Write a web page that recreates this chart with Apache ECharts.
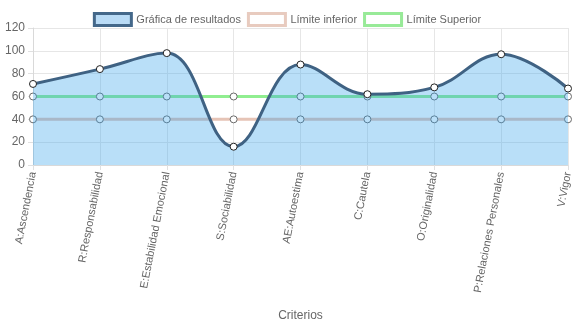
<!DOCTYPE html>
<html><head><meta charset="utf-8">
<script src="https://cdn.jsdelivr.net/npm/echarts@6/dist/echarts.min.js"></script>
<style>html,body{margin:0;padding:0;background:#fff}#c{width:574px;height:323px}</style>
</head><body><div id="c"></div>
<script>
const categories = ["A:Ascendencia","R:Responsabilidad","E:Estabilidad Emocional","S:Sociabilidad","AE:Autoestima","C:Cautela","O:Originalidad","P:Relaciones Personales","V:Vigor"];
const resultados = [71, 84, 98, 16, 88, 62, 68, 97, 67];
const limiteInferior = [40, 40, 40, 40, 40, 40, 40, 40, 40];
const limiteSuperior = [60, 60, 60, 60, 60, 60, 60, 60, 60];
const yTicks = {min: 0, max: 120, interval: 20};
const seriesNames = ["Gráfica de resultados", "Límite inferior", "Límite Superior"];

const FONT = "Liberation Sans, Arial, sans-serif";
const chart = echarts.init(document.getElementById('c'), null, {renderer: 'canvas'});
chart.setOption({
  animation: false,
  textStyle: {fontFamily: FONT},
  legend: {
    top: 7, left: 'center', itemWidth: 37, itemHeight: 12, itemGap: 6,
    textStyle: {color: '#666', fontSize: 11, fontFamily: FONT},
    data: [
      {name: seriesNames[0], icon: 'rect', itemStyle: {color: '#b9dbf6', borderColor: '#44688a', borderWidth: 3}},
      {name: seriesNames[1], icon: 'rect', itemStyle: {color: '#fff', borderColor: '#e8cbbf', borderWidth: 3}},
      {name: seriesNames[2], icon: 'rect', itemStyle: {color: '#fff', borderColor: '#98ea98', borderWidth: 3}}
    ]
  },
  grid: {left: 33, right: 4, top: 28, bottom: 158, containLabel: false},
  xAxis: {
    type: 'category', data: categories, boundaryGap: false,
    name: 'Criterios', nameLocation: 'middle', nameGap: 145,
    nameTextStyle: {color: '#666', fontSize: 12, fontFamily: FONT},
    axisLine: {show: true, lineStyle: {color: '#d9d9d9'}},
    axisTick: {show: true, length: 5, alignWithLabel: true, lineStyle: {color: '#e0e0e0'}},
    axisLabel: {rotate: 79, margin: 7, color: '#666', fontSize: 11, fontFamily: FONT, interval: 0},
    splitLine: {show: true, lineStyle: {color: '#e6e6e6'}}
  },
  yAxis: {
    type: 'value', min: yTicks.min, max: yTicks.max, interval: yTicks.interval,
    axisLine: {show: true, lineStyle: {color: '#d9d9d9'}},
    axisTick: {show: true, length: 5, lineStyle: {color: '#e0e0e0'}},
    axisLabel: {margin: 8, color: '#666', fontSize: 12, fontFamily: FONT},
    splitLine: {show: true, lineStyle: {color: '#e6e6e6'}}
  },
  series: [
    {
      name: seriesNames[2], type: 'line', data: limiteSuperior, z: 2,
      symbol: 'circle', symbolSize: 7,
      itemStyle: {color: '#fff', borderColor: '#6b6b6b', borderWidth: 1},
      lineStyle: {color: '#90ee90', width: 3}
    },
    {
      name: seriesNames[1], type: 'line', data: limiteInferior, z: 2,
      symbol: 'circle', symbolSize: 7,
      itemStyle: {color: '#fff', borderColor: '#6b6b6b', borderWidth: 1},
      lineStyle: {color: '#e6c4b6', width: 3}
    },
    {
      name: seriesNames[0], type: 'line', data: resultados, z: 3,
      smooth: 0.4,
      symbol: 'circle', symbolSize: 7,
      itemStyle: {color: '#fff', borderColor: '#222', borderWidth: 1},
      lineStyle: {color: '#3f6283', width: 3},
      areaStyle: {color: 'rgba(54,162,235,0.35)', opacity: 1, origin: 'start'}
    }
  ]
});
</script></body></html>
